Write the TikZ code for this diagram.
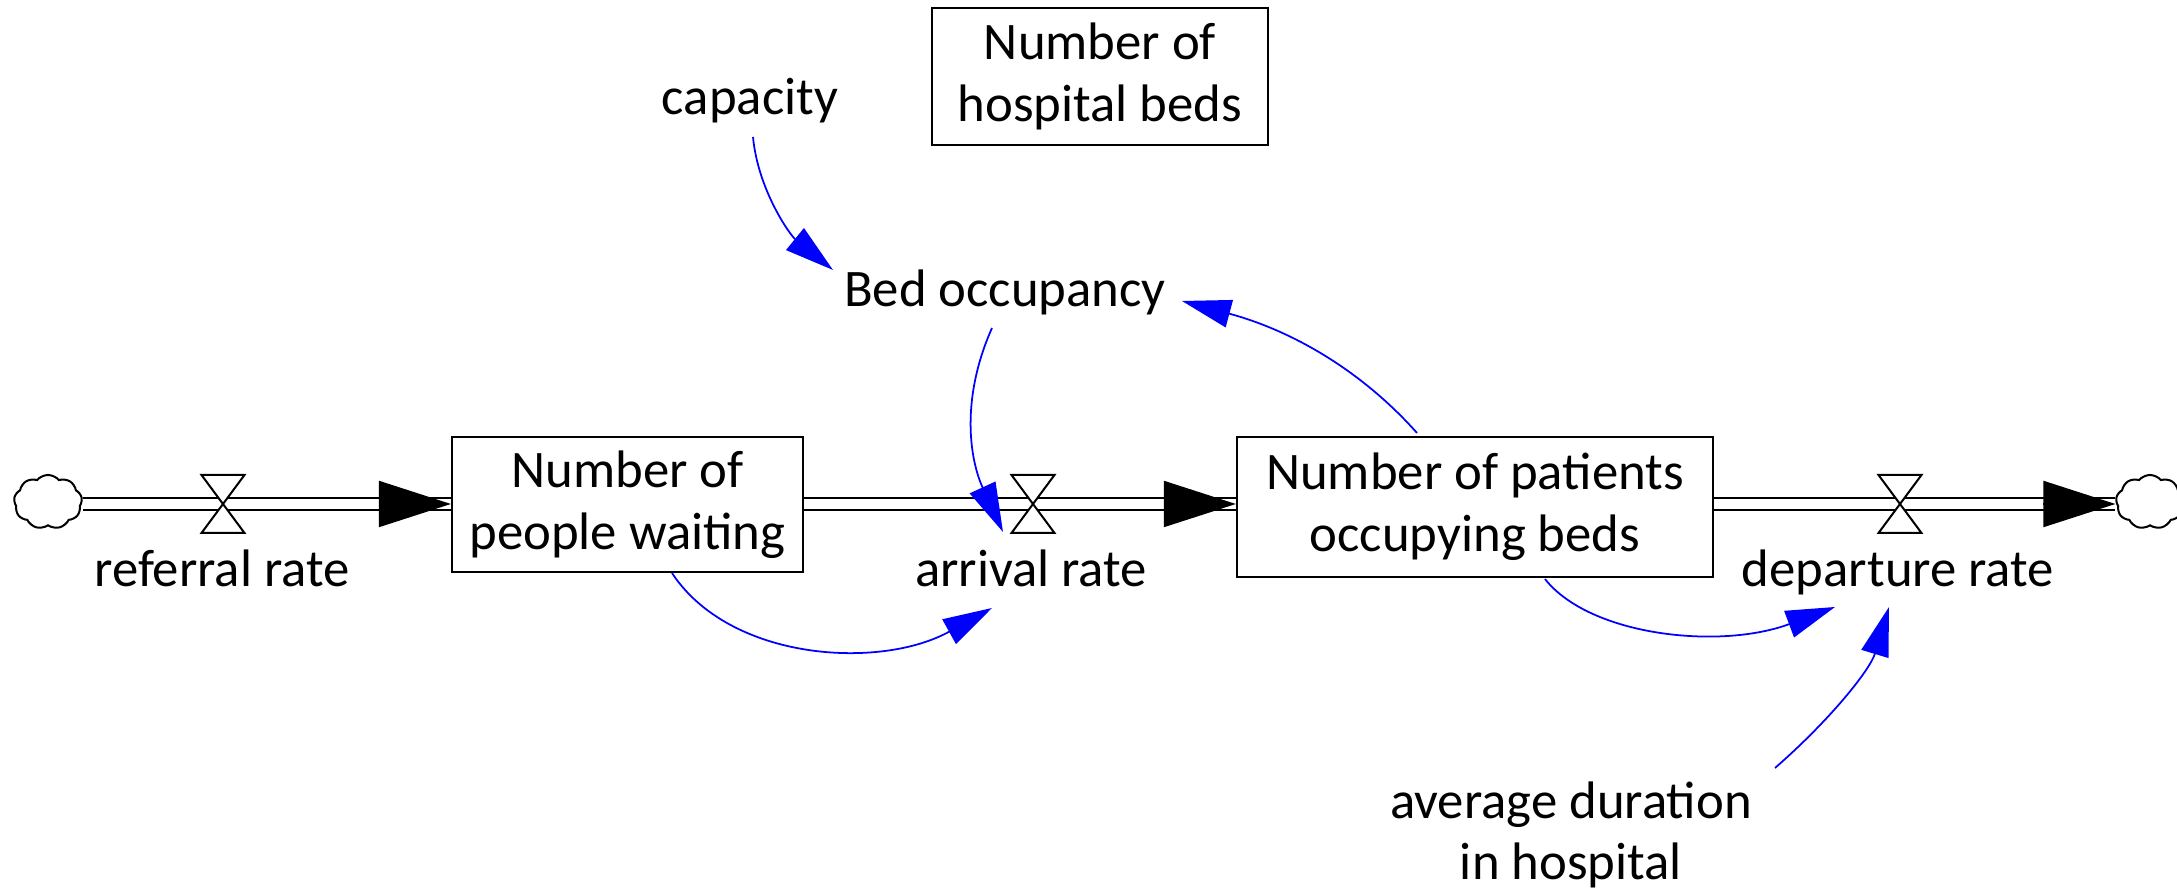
\documentclass[tikz,border=0pt]{standalone}
\usepackage{fontspec}
\setmainfont{Carlito}
\usetikzlibrary{arrows.meta,shapes.symbols}
\begin{document}
\begin{tikzpicture}[x=0.01cm,y=-0.01cm,
  font=\fontsize{15pt}{17.6pt}\selectfont,
  stock/.style={draw, line width=0.02cm, align=center, inner sep=0pt},
  lbl/.style={inner sep=0pt, anchor=base},
  pipe/.style={draw, line width=0.02cm, double=white, double distance=0.1cm},
  flowhead/.style={-{Triangle[length=0.72cm,width=0.46cm]}, line width=0.02cm},
  link/.style={draw=blue, line width=0.5pt, -{Triangle[length=0.49cm,width=0.28cm]}},
  sink/.style={cloud, draw, cloud puffs=9, cloud puff arc=100, minimum width=0.68cm, minimum height=0.54cm, inner sep=0pt, line width=0.02cm},
  valve/.pic={\draw[fill=white, line width=0.02cm] (-21.5,-29) -- (21.5,-29) -- (-21.5,29) -- (21.5,29) -- cycle;}
]
\useasboundingbox (0,0) rectangle (2177,892);

% stocks
\node[stock, minimum width=3.36cm, minimum height=1.37cm] (beds) at (1100,76.5) {Number of\\hospital beds};
\node[stock, minimum width=3.51cm, minimum height=1.35cm] (wait) at (627.5,504.5) {Number of\\people waiting};
\node[stock, minimum width=4.76cm, minimum height=1.40cm] (pat) at (1475,507) {Number of patients\\occupying beds};

% clouds
\node[sink] (src) at (48,502) {};
\node[sink] (snk) at (2150,502) {};

% valves
\coordinate (v1) at (223,504);
\coordinate (v2) at (1033,504);
\coordinate (v3) at (1900,504);

\coordinate (e1) at (wait.west |- v1);
\coordinate (e2) at (pat.west |- v2);
\coordinate (e3) at (snk.west |- v3);

% pipes
\draw[pipe] (src.east |- v1) -- (e1);
\draw[pipe] (wait.east |- v2) -- (e2);
\draw[pipe] (pat.east |- v3) -- (e3);

\draw[flowhead] ([xshift=-0.72cm]e1) -- (e1);
\draw[flowhead] ([xshift=-0.72cm]e2) -- (e2);
\draw[flowhead] ([xshift=-0.72cm]e3) -- (e3);

\pic at (v1) {valve};
\pic at (v2) {valve};
\pic at (v3) {valve};

% labels
\node[lbl] (ref) at (222,587) {referral rate};
\node[lbl] (arr) at (1031,587) {arrival rate};
\node[lbl] (dep) at (1898,587) {departure rate};
\node[lbl] (cap) at (750,115) {capacity};
\node[lbl] (bed) at (1005,307) {Bed occupancy};
\node[inner sep=0pt, align=center] (avg) at (1571,835) {average duration\\in hospital};

% links
\draw[link] ([shift={(3,22)}]cap.base) .. controls +(5,53) and +(-43,-35) .. ([shift={(-172,-37)}]bed.base);
\draw[link] ([shift={(-13,21)}]bed.base) .. controls +(-32,72) and +(-33,-72) .. ([shift={(-28,-55)}]arr.base);
\draw[link] ([shift={(-58,-3)}]pat.north) .. controls +(-57,-64) and +(108,29) .. ([shift={(177,-6)}]bed.base);
\draw[link] ([shift={(44.5,0)}]wait.south) .. controls +(58,88) and +(-112,62) .. ([shift={(-39,21)}]arr.base);
\draw[link] ([shift={(70,1)}]pat.south) .. controls +(45,57) and +(-115,43) .. ([shift={(-63,20)}]dep.base);
\draw[link] ([shift={(204,-67)}]avg.center) .. controls +(55,-48) and +(-19,63) .. ([shift={(-9,20)}]dep.base);
\end{tikzpicture}
\end{document}
